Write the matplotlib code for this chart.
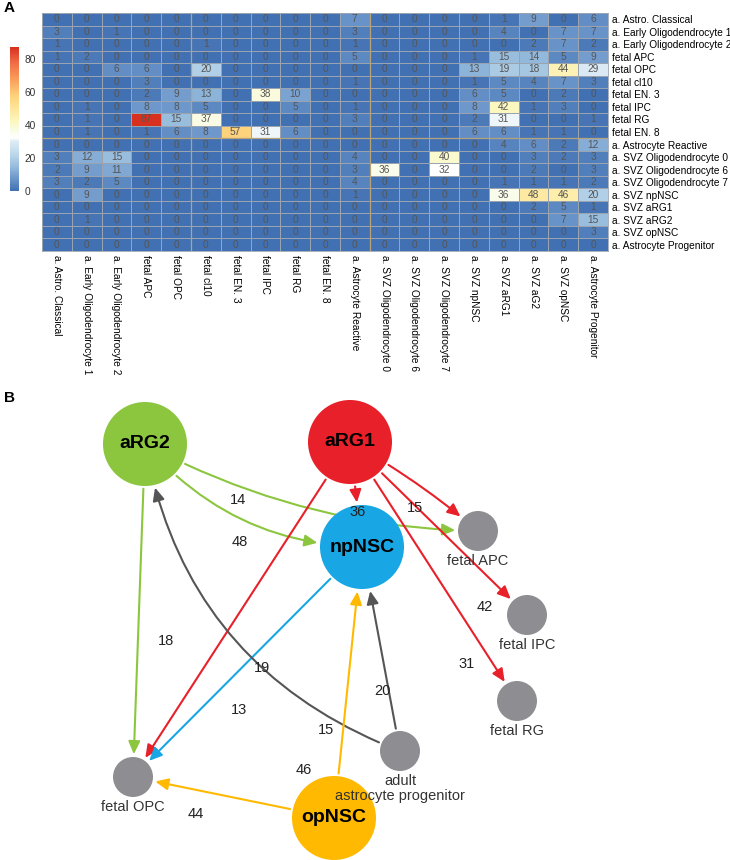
import numpy as np
import matplotlib
matplotlib.use('Agg')
import matplotlib.pyplot as plt
from matplotlib.colors import LinearSegmentedColormap
from matplotlib.patches import Circle, FancyArrowPatch

plt.rcParams['font.family'] = ['Liberation Sans', 'DejaVu Sans']

# ---- panel A data ----
row_labels = ['a. Astro. Classical', 'a. Early Oligodendrocyte 1', 'a. Early Oligodendrocyte 2',
              'fetal APC', 'fetal OPC', 'fetal cl10', 'fetal EN. 3', 'fetal IPC', 'fetal RG',
              'fetal EN. 8', 'a. Astrocyte Reactive', 'a. SVZ Oligodendrocyte 0',
              'a. SVZ Oligodendrocyte 6', 'a. SVZ Oligodendrocyte 7', 'a. SVZ npNSC',
              'a. SVZ aRG1', 'a. SVZ aRG2', 'a. SVZ opNSC', 'a. Astrocyte Progenitor']
col_labels = ['a. Astro. Classical', 'a. Early Oligodendrocyte 1', 'a. Early Oligodendrocyte 2',
              'fetal APC', 'fetal OPC', 'fetal cl10', 'fetal EN. 3', 'fetal IPC', 'fetal RG',
              'fetal EN. 8', 'a. Astrocyte Reactive', 'a. SVZ Oligodendrocyte 0',
              'a. SVZ Oligodendrocyte 6', 'a. SVZ Oligodendrocyte 7', 'a. SVZ npNSC',
              'a. SVZ aRG1', 'a. SVZ aG2', 'a. SVZ opNSC', 'a. Astrocyte Progenitor']

counts = np.array([
    [0, 0, 0, 0, 0, 0, 0, 0, 0, 0, 7, 0, 0, 0, 0, 1, 9, 0, 6],
    [3, 0, 1, 0, 0, 0, 0, 0, 0, 0, 3, 0, 0, 0, 0, 4, 0, 7, 7],
    [1, 0, 0, 0, 0, 1, 0, 0, 0, 0, 1, 0, 0, 0, 0, 0, 2, 7, 2],
    [1, 2, 0, 0, 0, 0, 0, 0, 0, 0, 5, 0, 0, 0, 1, 15, 14, 5, 9],
    [0, 0, 6, 6, 0, 20, 0, 0, 0, 0, 0, 0, 0, 0, 13, 19, 18, 44, 29],
    [0, 0, 0, 3, 0, 0, 0, 0, 0, 0, 1, 0, 0, 0, 1, 5, 4, 7, 3],
    [0, 0, 0, 2, 9, 13, 0, 38, 10, 0, 0, 0, 0, 0, 6, 5, 0, 2, 0],
    [0, 1, 0, 8, 8, 5, 0, 0, 5, 0, 1, 0, 0, 0, 8, 42, 1, 3, 0],
    [0, 1, 0, 87, 15, 37, 0, 0, 0, 0, 3, 0, 0, 0, 2, 31, 0, 0, 1],
    [0, 1, 0, 1, 6, 8, 57, 31, 6, 0, 0, 0, 0, 0, 6, 6, 1, 1, 0],
    [0, 0, 0, 0, 0, 0, 0, 0, 0, 0, 0, 0, 0, 0, 0, 4, 6, 2, 12],
    [3, 12, 15, 0, 0, 0, 0, 0, 0, 0, 4, 0, 0, 40, 0, 0, 3, 2, 3],
    [2, 9, 11, 0, 0, 0, 0, 0, 0, 0, 3, 36, 0, 32, 0, 0, 2, 0, 3],
    [3, 2, 5, 0, 0, 0, 0, 0, 0, 0, 4, 0, 0, 0, 0, 1, 1, 1, 2],
    [0, 9, 0, 0, 0, 0, 0, 0, 0, 0, 1, 0, 0, 0, 0, 36, 48, 46, 20],
    [0, 0, 0, 0, 0, 0, 0, 0, 0, 0, 0, 0, 0, 0, 0, 0, 2, 5, 1],
    [0, 1, 0, 0, 0, 0, 0, 0, 0, 0, 0, 0, 0, 0, 0, 0, 0, 7, 15],
    [0, 0, 0, 0, 0, 0, 0, 0, 0, 0, 0, 0, 0, 0, 0, 0, 0, 0, 3],
    [0, 0, 0, 0, 0, 0, 0, 0, 0, 0, 0, 0, 0, 0, 0, 0, 0, 0, 0],
])
cbar_ticks = [0, 20, 40, 60, 80]

# ---- panel B data: (source column, target row) of the matrix ----
edge_src = ['a. SVZ aRG1', 'a. SVZ aG2', 'a. SVZ aG2', 'a. SVZ aRG1', 'a. SVZ aRG1', 'a. SVZ aRG1',
            'a. SVZ aG2', 'a. SVZ aRG1', 'a. SVZ npNSC', 'a. Astrocyte Progenitor',
            'a. Astrocyte Progenitor', 'a. SVZ opNSC', 'a. SVZ opNSC']
edge_dst = ['fetal APC', 'fetal APC', 'a. SVZ npNSC', 'a. SVZ npNSC', 'fetal IPC', 'fetal RG',
            'fetal OPC', 'fetal OPC', 'fetal OPC', 'a. SVZ npNSC', 'a. SVZ aRG2',
            'a. SVZ npNSC', 'fetal OPC']
node_names = ['a. SVZ aG2', 'a. SVZ aRG1', 'a. SVZ npNSC', 'a. SVZ opNSC', 'fetal APC',
              'fetal IPC', 'fetal RG', 'fetal OPC', 'a. Astrocyte Progenitor']
node_text = ['aRG2', 'aRG1', 'npNSC', 'opNSC', 'fetal APC', 'fetal IPC', 'fetal RG',
             'fetal OPC', 'adult\nastrocyte progenitor']

# ---- layout / style ----
same_node = {'a. SVZ aRG2': 'a. SVZ aG2'}
node_xy = {'a. SVZ aG2': (145, 444), 'a. SVZ aRG1': (350, 442), 'a. SVZ npNSC': (362, 547),
           'a. SVZ opNSC': (334, 818), 'fetal APC': (478, 531), 'fetal IPC': (527, 615),
           'fetal RG': (517, 701), 'fetal OPC': (133, 777), 'a. Astrocyte Progenitor': (400, 751)}
big_r, small_r = 42, 20
big_color = {'a. SVZ aG2': '#8cc63f', 'a. SVZ aRG1': '#e8202a',
             'a. SVZ npNSC': '#18a6e4', 'a. SVZ opNSC': '#ffb900'}
edge_rad = [-0.05, 0.12, 0.22, 0, 0, 0, 0, 0, 0, 0, -0.28, 0, 0]
label_xy = [(415, 508), (238, 500), (240, 542), (358, 512), (485, 607), (467, 664),
            (166, 641), (262, 668), (239, 710), (382, 691), (326, 730), (304, 770), (196, 814)]

W, H = 730, 860
fig = plt.figure(figsize=(W / 100, H / 100), dpi=100)

cmap = LinearSegmentedColormap.from_list('hm', [
    (0.0, '#4271b3'), (8 / 87, '#6f99cc'), (15 / 87, '#98bddd'), (22 / 87, '#bcd7ea'),
    (30 / 87, '#deecf4'), (32 / 87, '#ffffff'), (36 / 87, '#fafcea'), (42 / 87, '#fbf7bf'),
    (50 / 87, '#fee598'), (58 / 87, '#fdcf79'), (68 / 87, '#f99b5a'), (78 / 87, '#ef6a43'),
    (1.0, '#d7301f')])

ax = fig.add_axes([42 / W, 1 - 251 / H, 566 / W, 238 / H])
nr, nc = counts.shape
mesh = ax.pcolormesh(np.arange(nc + 1), np.arange(nr + 1), counts, cmap=cmap, vmin=0, vmax=87,
                     edgecolors='#9aa3b0', linewidth=0.6)
ax.set_xlim(0, nc)
ax.set_ylim(nr, 0)
for i in range(nr):
    for j in range(nc):
        ax.text(j + 0.5, i + 0.5, str(counts[i, j]), ha='center', va='center',
                fontsize=7.3, color='#555555')
for xv in [5, 11]:
    ax.axvline(xv, color='#b8a27a', lw=0.9)
ax.axhline(10, color='#b8a27a', lw=0.9)
ax.set_xticks(np.arange(nc) + 0.5)
ax.set_xticklabels(col_labels, rotation=-90, fontsize=7.3, va='top', ha='center')
ax.set_yticks(np.arange(nr) + 0.5)
ax.set_yticklabels(row_labels, fontsize=7.3)
ax.yaxis.tick_right()
ax.tick_params(length=0, pad=3)
for s in ax.spines.values():
    s.set_color('#9aa3b0')
    s.set_linewidth(0.6)

cax = fig.add_axes([10 / W, 1 - 191 / H, 9 / W, 144 / H])
cb = fig.colorbar(mesh, cax=cax, ticks=cbar_ticks)
cb.outline.set_visible(False)
cax.tick_params(length=0, labelsize=7.3, pad=4, colors='#333333')

fig.text(4 / W, 1 - 8 / H, 'A', fontsize=11, fontweight='bold', va='center')
fig.text(4 / W, 1 - 398 / H, 'B', fontsize=11, fontweight='bold', va='center')

# ---- panel B ----
bx = fig.add_axes([0, 0, 1, 480 / H])
bx.set_xlim(0, W)
bx.set_ylim(H, 380)
bx.axis('off')
bx.patch.set_visible(False)

patches = {}
for name, txt in zip(node_names, node_text):
    x, y = node_xy[name]
    if name in big_color:
        c = Circle((x, y), big_r, facecolor=big_color[name], edgecolor='none', zorder=3)
        bx.text(x, y, txt, ha='center', va='center', fontsize=14, fontweight='bold',
                color='black', zorder=4)
    else:
        c = Circle((x, y), small_r, facecolor='#8e8e92', edgecolor='none', zorder=3)
        bx.text(x, y + small_r + 3, txt, ha='center', va='top', fontsize=10.5, color='#333333',
                linespacing=1.1, zorder=4)
    bx.add_patch(c)
    patches[name] = c

for k, (s, d) in enumerate(zip(edge_src, edge_dst)):
    w = counts[row_labels.index(d), col_labels.index(s)]
    d_node = same_node.get(d, d)
    col = big_color.get(s, '#555555')
    arr = FancyArrowPatch(node_xy[s], node_xy[d_node], patchA=patches[s], patchB=patches[d_node],
                          connectionstyle=f'arc3,rad={edge_rad[k]}',
                          arrowstyle='-|>,head_length=0.55,head_width=0.25',
                          mutation_scale=14, color=col, lw=1.5, zorder=2)
    bx.add_patch(arr)
    lx, ly = label_xy[k]
    bx.text(lx, ly, str(w), ha='center', va='center', fontsize=10.5, color='#222222', zorder=5)

fig.savefig('out.png', dpi=100)
